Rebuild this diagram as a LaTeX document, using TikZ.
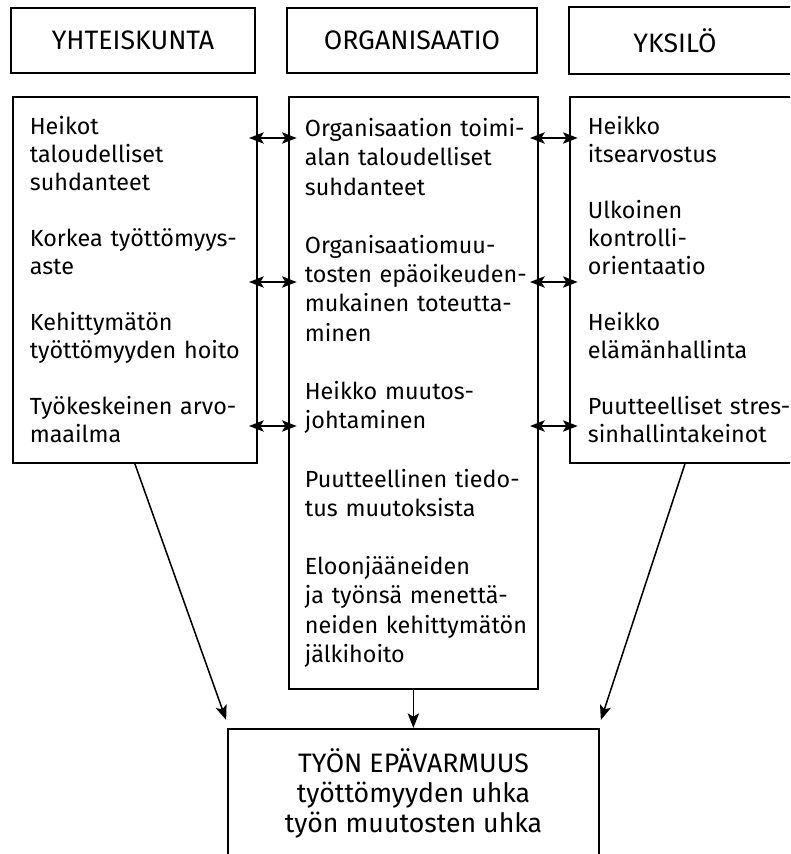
\documentclass[tikz,border=0pt]{standalone}
\usepackage{fontspec}
\setmainfont{Fira Sans}
\usetikzlibrary{arrows.meta}
\newcommand\nobreaks{\hyphenpenalty=10000\exhyphenpenalty=10000}

\begin{document}
\begin{tikzpicture}[x=0.75pt,y=-0.75pt,
		box/.style={draw,line width=1.3pt,inner ysep=0pt},
		head/.style={box,font=\fontsize{20}{24}\selectfont,minimum height=48.75pt},
		body/.style={box,anchor=north west,align=left,font=\fontsize{17.5}{21}\selectfont\nobreaks,text width=#1},
		tip/.style={-{Stealth[length=11pt,width=8.5pt,inset=2.5pt]},line width=1.15pt},
		dbl/.style={{Stealth[length=11pt,width=8.5pt,inset=2.5pt]}-{Stealth[length=11pt,width=8.5pt,inset=2.5pt]},line width=1.15pt,shorten <=-6.5pt,shorten >=-6.5pt}]
	\useasboundingbox (0,0) rectangle (790,854);
	\clip (0,0) rectangle (790,854);

	\node[head,minimum width=183pt] (yht) at (133,40.5) {YHTEISKUNTA};
	\node[head,minimum width=187.5pt] (org) at (412,40.5) {ORGANISAATIO};
	\node[head,draw=none,minimum width=157.5pt] (yks) at (675,40.5) {YKSILÖ};
	\draw[line width=1.3pt] (yks.north west) ++(240,0) -- (yks.north west) -- (yks.south west) -- ++(240,0);

	\node[body=157.5pt,inner xsep=12.75pt,minimum height=274.5pt] (yhtb) at (12,96) {Heikot\\taloudelliset\\suhdanteet\\[21pt]Korkea~työttömyys-\\aste\\[21pt]Kehittymätön\\työttömyyden~hoito\\[21pt]Työkeskeinen~arvo-\\maailma};
	\node[body=162.75pt,inner xsep=12pt,minimum height=444pt,font=\fontsize{17.5}{21.9}\selectfont\nobreaks] (orgb) at (288,96) {Organisaation~toimi-\\alan~taloudelliset\\suhdanteet\\[21.9pt]Organisaatiomuu-\\tosten~epäoikeuden-\\mukainen~toteutta-\\minen\\[21.9pt]Heikko~muutos-\\johtaminen\\[21.9pt]Puutteellinen~tiedo-\\tus~muutoksista\\[21.9pt]Eloonjääneiden\\ja~työnsä~menettä-\\neiden~kehittymätön\\jälkihoito};
	\node[body=180pt,inner xsep=13.5pt,minimum height=274.5pt] (yksb) at (569,96) {Heikko\\itsearvostus\\[21pt]Ulkoinen\\kontrolli-\\orientaatio\\[21pt]Heikko\\elämänhallinta\\[21pt]Puutteelliset~stres-\\sinhallintakeinot};

	% box runs on below the page edge
	\node[box,anchor=north,align=center,minimum width=278.25pt,minimum height=105pt,font=\fontsize{20}{22.5}\selectfont] (res) at (413.5,728) {TYÖN EPÄVARMUUS\\työttömyyden uhka\\työn muutosten uhka\rule[-12pt]{0pt}{12pt}};

	\foreach \dy in {31.5,139.5,247.5}
	{
		\draw[dbl] ([yshift=-\dy pt]yhtb.north east) -- ([yshift=-\dy pt]orgb.north west);
		\draw[dbl] ([yshift=-\dy pt]orgb.north east) -- ([yshift=-\dy pt]yksb.north west);
	}
	\draw[tip] (yhtb.south) -- ([shift={(-1,-8)}]res.north west);
	\draw[tip] ([shift={(116,0)}]yksb.south west) -- ([shift={(1,-8)}]res.north east);
	\draw[tip] (orgb.south) -- (orgb.south |- res.north);
\end{tikzpicture}
\end{document}
